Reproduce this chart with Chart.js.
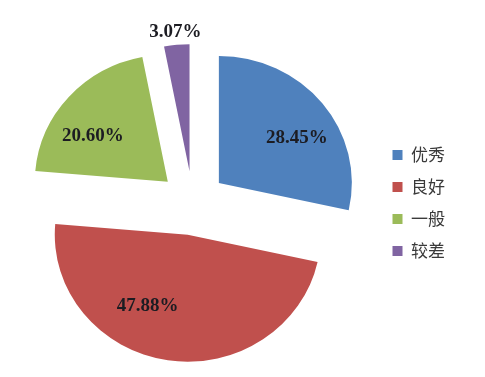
<!DOCTYPE html>
<html>
<head>
<meta charset="utf-8">
<script src="https://cdn.jsdelivr.net/npm/chart.js@4"></script>
<style>
  html, body { margin: 0; padding: 0; background: #fff; }
  #wrap { width: 485px; height: 377px; }
</style>
</head>
<body>
<div id="wrap"><canvas id="pieChart"></canvas></div>
<script>
// data
const categories = ['优秀', '良好', '一般', '较差'];
const shares = [28.45, 47.88, 20.60, 3.07];
const sliceColors = ['#4F81BD', '#C0504D', '#9BBB59', '#8064A2'];

// where each % label sits: fraction of radius and turn (deg) off the slice middle
const labelReach = [0.69, 0.63, 0.675, 1.11];
const labelTurn = [7, 20, -8.6, 0];

const EXPLODE = 32;     // px each slice is pulled out
const X_STRETCH = 1.047; // original picture is a bit wider than tall

// pull every slice out along its middle angle (chart.js offset also grows small slices)
const explodePie = {
  id: 'explodePie',
  beforeDatasetDraw(chart, args) {
    const ctx = chart.ctx;
    args.meta.data.forEach(arc => {
      const mid = (arc.startAngle + arc.endAngle) / 2;
      ctx.save();
      ctx.translate(arc.x, arc.y);
      ctx.scale(X_STRETCH, 1);
      ctx.translate(Math.cos(mid) * EXPLODE, Math.sin(mid) * EXPLODE);
      ctx.translate(-arc.x, -arc.y);
      arc.draw(ctx);
      ctx.restore();
    });
    return false;
  },
  afterDatasetsDraw(chart) {
    const ctx = chart.ctx;
    const meta = chart.getDatasetMeta(0);
    ctx.save();
    ctx.font = 'bold 19px "Liberation Serif", "Times New Roman", serif';
    ctx.fillStyle = '#1c1c22';
    ctx.textAlign = 'center';
    ctx.textBaseline = 'middle';
    meta.data.forEach((arc, i) => {
      const mid = (arc.startAngle + arc.endAngle) / 2;
      const a = mid + labelTurn[i] * Math.PI / 180;
      const r = arc.outerRadius * labelReach[i];
      const dx = Math.cos(mid) * EXPLODE + Math.cos(a) * r;
      const dy = Math.sin(mid) * EXPLODE + Math.sin(a) * r;
      ctx.fillText(shares[i].toFixed(2) + '%', arc.x + dx * X_STRETCH, arc.y + dy + 1.5);
    });
    ctx.restore();
  }
};

const ctx = document.getElementById('pieChart').getContext('2d');
const pieChart = new Chart(ctx, {
  type: 'pie',
  data: {
    labels: categories,
    datasets: [{
      data: shares,
      backgroundColor: sliceColors,
      borderWidth: 0,
      hoverOffset: 0,
      radius: 127
    }]
  },
  options: {
    responsive: true,
    maintainAspectRatio: false,
    animation: false,
    layout: {
      padding: { top: 29, bottom: 0, left: 8, right: 30 }
    },
    plugins: {
      legend: {
        position: 'right',
        labels: {
          boxWidth: 10,
          boxHeight: 10,
          padding: 15,
          color: '#3a3a3a',
          font: { family: '"Noto Sans CJK SC", sans-serif', size: 17 }
        }
      },
      tooltip: { enabled: false }
    }
  },
  plugins: [explodePie]
});
</script>
</body>
</html>
